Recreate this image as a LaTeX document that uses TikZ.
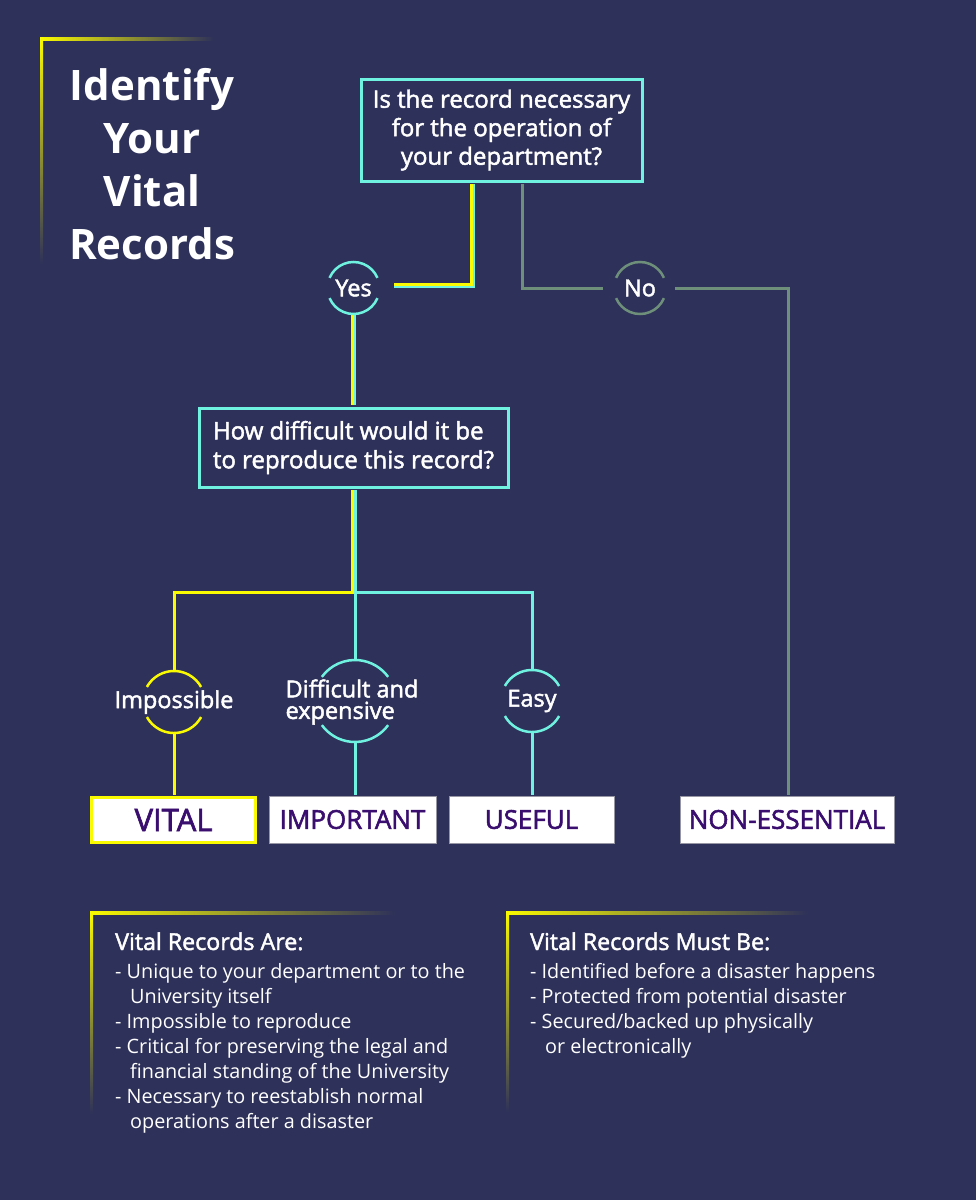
\documentclass[tikz,border=0pt]{standalone}
\usepackage{fontspec}
\setmainfont{Open Sans}
\newfontfamily\sbf[FakeBold=2]{Open Sans}
\usetikzlibrary{calc}
\definecolor{bg}{RGB}{46,49,89}
\definecolor{cyanc}{RGB}{112,242,224}
\definecolor{yel}{RGB}{250,250,0}
\definecolor{grn}{RGB}{110,143,122}
\definecolor{purp}{RGB}{58,14,110}
\definecolor{bordgray}{RGB}{150,150,165}
\newcommand\ringarcs[4]{%
  \draw[#4, line width=2.5pt] ($(#1.center)+(#3:#2)$) arc[start angle=#3, end angle={180-#3}, radius=#2];
  \draw[#4, line width=2.5pt] ($(#1.center)+({180+#3}:#2)$) arc[start angle={180+#3}, end angle={360-#3}, radius=#2];
}
\tikzset{
  qbox/.style={draw=cyanc, line width=3pt, text=white, font=\sbf\fontsize{24}{28.5}\selectfont, inner sep=0pt, align=center},
  ring/.style={circle, inner sep=0pt},
  ringtext/.style={text=white, font=\sbf\fontsize{23.5}{21.5}\selectfont, inner sep=0pt, align=left},
  result/.style={fill=white, draw=bordgray, line width=1pt, text=purp, font=\sbf\fontsize{26}{28}\selectfont, minimum height=47pt, inner sep=0pt},
  cyline/.style={draw=cyanc, line width=3pt},
  yline/.style={draw=yel, line width=3pt},
  gline/.style={draw=grn, line width=3pt},
  titletext/.style={anchor=base, text=white, font=\bfseries\fontsize{42}{50}\selectfont, inner sep=0pt},
  headtext/.style={anchor=base west, text=white, font=\sbf\fontsize{23.2}{25}\selectfont, inner sep=0pt},
  itemtext/.style={anchor=base west, text=white, font=\fontsize{19.8}{25}\selectfont, inner sep=0pt},
}
\begin{document}
\begin{tikzpicture}[x=1pt,y=-1pt]
\fill[bg] (0,0) rectangle (976,1200);
\useasboundingbox (0,0) rectangle (976,1200);

% title bracket
\shade[left color=yel, right color=bg] (40,37) rectangle (214,40);
\shade[top color=yel, bottom color=bg] (40,37) rectangle (43,264);
\node[titletext] (t1) at (152,100) {Identify};
\node[titletext] (t2) at (152,153) {Your};
\node[titletext] (t3) at (152,206) {Vital};
\node[titletext] (t4) at (152,259) {Records};

% coordinates
\coordinate (bar) at (0,592.5);

% nodes
\node[qbox, minimum width=281pt, minimum height=102pt] (q1) at (501.5,130) {Is the record necessary\\for the operation of\\your department?};
\node[ring, minimum size=52pt] (yes) at (353.5,288) {};
\node[ringtext] (yest) at (yes.center) {Yes};
\node[ring, minimum size=52pt] (no) at (640,288) {};
\node[ringtext] (not) at (no.center) {No};
\node[qbox, minimum width=309pt, minimum height=79pt, align=left, font=\sbf\fontsize{24}{29}\selectfont] (q2) at (353.5,447.5) {How difficult would it be\\to reproduce this record?};
\node[ring, minimum size=62pt] (imp) at (174,702) {};
\node[ringtext] (impt) at (imp.center) {Impossible};
\node[ring, minimum size=82pt] (dif) at (355,701) {};
\node[ringtext] (dift) at (352,702) {Difficult and\\expensive};
\node[ring, minimum size=62pt] (easy) at (532,701) {};
\node[ringtext] (easyt) at (easy.center) {Easy};

% connectors
\coordinate (yj) at ($(yes.east)+(14,-2.5)$);
\draw[cyanc, line width=5pt] ($(q1.south)+(-29,1.5)$) |- (yj);
\draw[yel, line width=2.5pt] ($(q1.south)+(-30.25,1.5)$) |- ($(yj)+(0,-1.25)$);
\draw[cyanc, line width=2.5pt] ($(yes.south)+(1.25,0)$) -- ($(yes.south |- q2.north)+(1.25,-1.5)$);
\draw[yel, line width=2.5pt] ($(yes.south)+(-1.25,0)$) -- ($(yes.south |- q2.north)+(-1.25,-1.5)$);
\draw[yline] ($(q2.south)+(-1.5,1.5)$) |- (imp.north |- bar) -- (imp.north);
\draw[cyline] ($(q2.south)+(1.5,1.5)$) -- (dif.north);
\draw[cyline] ($(dif.north |- bar)+(-1.5,0)$) -| (easy.north);
\coordinate (nl) at ($(no.west)+(-11,0)$);
\coordinate (nr) at ($(no.east)+(9,0)$);
\draw[gline] ($(q1.south)+(20.5,1.5)$) |- (nl);

% result boxes
\node[result, minimum width=164pt, minimum height=45pt, draw=yel, line width=3pt, font=\sbf\fontsize{31}{34}\selectfont] (vital) at (173.5,820) {VITAL};
\node[result, minimum width=167pt] (impo) at (352.5,819.5) {IMPORTANT};
\node[result, minimum width=165pt] (use) at (531.5,819.5) {USEFUL};
\node[result, minimum width=214pt] (none) at (787,819.5) {NON-ESSENTIAL};

\draw[gline] (nr) -| ($(none.north)+(1,-0.5)$);
\draw[yline] (imp.south) -- ($(imp.south |- vital.north)+(0,-1.5)$);
\draw[cyline] (dif.south) -- ($(dif.south |- impo.north)+(0,-0.5)$);
\draw[cyline] (easy.south) -- ($(easy.south |- use.north)+(0,-0.5)$);

% rings
\ringarcs{yes}{26}{23}{cyanc}
\ringarcs{no}{26}{23}{grn}
\ringarcs{imp}{31}{29}{yel}
\ringarcs{dif}{41}{36}{cyanc}
\ringarcs{easy}{31}{29}{cyanc}

% bottom left panel
\shade[left color=yel, right color=bg] (90,911) rectangle (395,914);
\shade[top color=yel, bottom color=bg] (90,911) rectangle (93,1114);
\node[headtext] (la0) at (115,950) {Vital Records Are:};
\node[itemtext] (la1) at (115,978) {- Unique to your department or to the};
\node[itemtext] (la2) at (130,1003) {University itself};
\node[itemtext] (la3) at (115,1028) {- Impossible to reproduce};
\node[itemtext] (la4) at (115,1053) {- Critical for preserving the legal and};
\node[itemtext] (la5) at (130,1078) {financial standing of the University};
\node[itemtext] (la6) at (115,1103) {- Necessary to reestablish normal};
\node[itemtext] (la7) at (130,1128) {operations after a disaster};

% bottom right panel
\shade[left color=yel, right color=bg] (506,911) rectangle (808,914);
\shade[top color=yel, bottom color=bg] (506,911) rectangle (509,1112);
\node[headtext] (rb0) at (530,950) {Vital Records Must Be:};
\node[itemtext] (rb1) at (530,978) {- Identified before a disaster happens};
\node[itemtext] (rb2) at (530,1003) {- Protected from potential disaster};
\node[itemtext] (rb3) at (530,1028) {- Secured/backed up physically};
\node[itemtext] (rb4) at (545,1053) {or electronically};
\end{tikzpicture}
\end{document}
